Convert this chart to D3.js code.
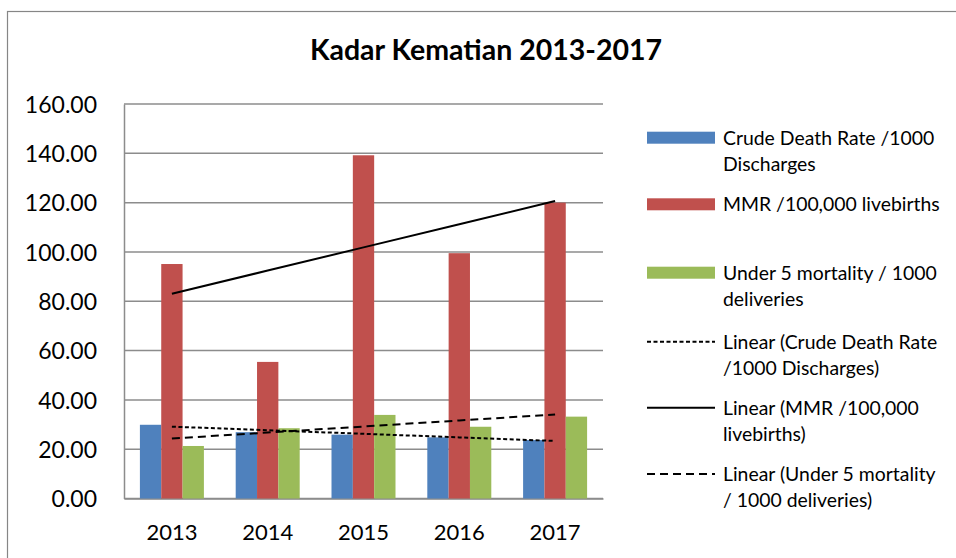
<!DOCTYPE html>
<html>
<head>
<meta charset="utf-8">
<script src="https://cdn.jsdelivr.net/npm/d3@7"></script>
<style>
  body { margin: 0; background: #fff; }
  svg { display: block; font-family: Lato, "Open Sans", sans-serif; }
</style>
</head>
<body>
<svg></svg>
<script>
var years = ['2013', '2014', '2015', '2016', '2017']
var crudeDeathRate = [29.9, 26.9, 25.9, 24.8, 23.7]
var mmr = [95.1, 55.4, 139.2, 99.5, 120.0]
var under5 = [21.3, 28.5, 33.9, 29.1, 33.2]
var yTicks = [0, 20, 40, 60, 80, 100, 120, 140, 160]
var seriesNames = ['Crude Death Rate /1000 Discharges', 'MMR /100,000 livebirths', 'Under 5 mortality / 1000 deliveries']

var colors = ['#4F81BD', '#C0504D', '#9BBB59']
var dashes = ['4,2.5', null, '8,5']

// least squares fit over category index, like Excel's linear trendline
function linearTrend(values) {
    var mx = d3.mean(values, function(d, i) { return i })
    var my = d3.mean(values)
    var num = 0, den = 0
    values.forEach(function(v, i) {
        num += (i - mx) * (v - my)
        den += (i - mx) * (i - mx)
    })
    var slope = num / den
    return values.map(function(v, i) { return my + slope * (i - mx) })
}

function drawChart() {
    var svgWidth = 956, svgHeight = 558
    var svg = d3.select('svg')
        .attr('width', svgWidth)
        .attr('height', svgHeight)

    // outer chart border (runs off the picture on right and bottom)
    svg.append('rect')
        .attr('x', 7.5).attr('y', 11.5)
        .attr('width', 1000).attr('height', 600)
        .attr('fill', 'none')
        .attr('stroke', '#868686')
        .attr('stroke-width', 1.2)

    svg.append('text')
        .attr('x', 486).attr('y', 60)
        .attr('text-anchor', 'middle')
        .attr('font-weight', 'bold')
        .attr('font-size', '28.5px')
        .attr('fill', '#000')
        .text('Kadar Kematian 2013-2017')

    var left = 124, right = 603, top = 104, bottom = 498.5
    var x = d3.scaleBand().domain(years).range([left, right]).paddingInner(0.332).paddingOuter(0.166)
    var xs = d3.scaleBand().domain([0, 1, 2]).range([0, x.bandwidth()])
    var y = d3.scaleLinear().domain([0, 160]).range([bottom, top])

    // gridlines
    svg.append('g')
        .selectAll('line')
        .data(yTicks)
        .join('line')
        .attr('x1', left).attr('x2', right)
        .attr('y1', function(d) { return y(d) })
        .attr('y2', function(d) { return y(d) })
        .attr('stroke', '#8c8c8c')
        .attr('stroke-width', 1.5)

    // y axis
    var yAxis = svg.append('g')
        .attr('transform', 'translate(' + left + ',0)')
        .call(d3.axisLeft(y).tickValues(yTicks).tickFormat(d3.format('.2f')).tickSize(0).tickPadding(27))
    yAxis.select('.domain').attr('stroke', '#8c8c8c').attr('stroke-width', 1.5)
    yAxis.selectAll('text')
        .attr('font-family', 'Lato, sans-serif')
        .attr('font-size', '23px')
        .attr('fill', '#000')
        .attr('dy', '0.36em')

    // x axis
    var xAxis = svg.append('g')
        .attr('transform', 'translate(0,' + bottom + ')')
        .call(d3.axisBottom(x).tickSize(0).tickPadding(26))
    xAxis.select('.domain').attr('stroke', '#8c8c8c').attr('stroke-width', 1.5)
    xAxis.selectAll('text')
        .attr('font-family', 'Lato, sans-serif')
        .attr('font-size', '22px')
        .attr('fill', '#000')

    // bars
    var allSeries = [crudeDeathRate, mmr, under5]
    allSeries.forEach(function(values, s) {
        svg.append('g')
            .selectAll('rect')
            .data(values)
            .join('rect')
            .attr('x', function(d, i) { return x(years[i]) + xs(s) })
            .attr('y', function(d) { return y(d) })
            .attr('width', xs.bandwidth())
            .attr('height', function(d) { return bottom - y(d) })
            .attr('fill', colors[s])
    })

    // trendlines from first to last category centre
    var line = d3.line()
        .x(function(d, i) { return x(years[i]) + x.bandwidth() / 2 })
        .y(function(d) { return y(d) })
    allSeries.forEach(function(values, s) {
        svg.append('path')
            .datum(linearTrend(values))
            .attr('fill', 'none')
            .attr('stroke', '#000')
            .attr('stroke-width', 2)
            .attr('stroke-dasharray', dashes[s])
            .attr('d', line)
    })

    // legend
    var legendItems = [
        { lines: ['Crude Death Rate /1000', 'Discharges'], kind: 'bar', s: 0, cy: 137.7 },
        { lines: ['MMR /100,000 livebirths'], kind: 'bar', s: 1, cy: 204.3 },
        { lines: ['Under 5 mortality / 1000', 'deliveries'], kind: 'bar', s: 2, cy: 272.7 },
        { lines: ['Linear (Crude Death Rate', '/1000 Discharges)'], kind: 'line', s: 0, cy: 341.7 },
        { lines: ['Linear (MMR /100,000', 'livebirths)'], kind: 'line', s: 1, cy: 407.7 },
        { lines: ['Linear (Under 5 mortality', '/ 1000 deliveries)'], kind: 'line', s: 2, cy: 474 }
    ]
    var lg = svg.append('g')
    legendItems.forEach(function(item) {
        if (item.kind == 'bar') {
            lg.append('rect')
                .attr('x', 647).attr('y', item.cy - 6)
                .attr('width', 68).attr('height', 12)
                .attr('fill', colors[item.s])
        } else {
            lg.append('line')
                .attr('x1', 647).attr('x2', 715)
                .attr('y1', item.cy).attr('y2', item.cy)
                .attr('stroke', '#000')
                .attr('stroke-width', 2)
                .attr('stroke-dasharray', dashes[item.s])
        }
        var t = lg.append('text')
            .attr('x', 723).attr('y', item.cy + 7)
            .attr('font-size', '19.4px')
            .attr('fill', '#000')
        item.lines.forEach(function(txt, k) {
            t.append('tspan').attr('x', 723).attr('dy', k == 0 ? 0 : 26).text(txt)
        })
    })
}

drawChart()
</script>
</body>
</html>
